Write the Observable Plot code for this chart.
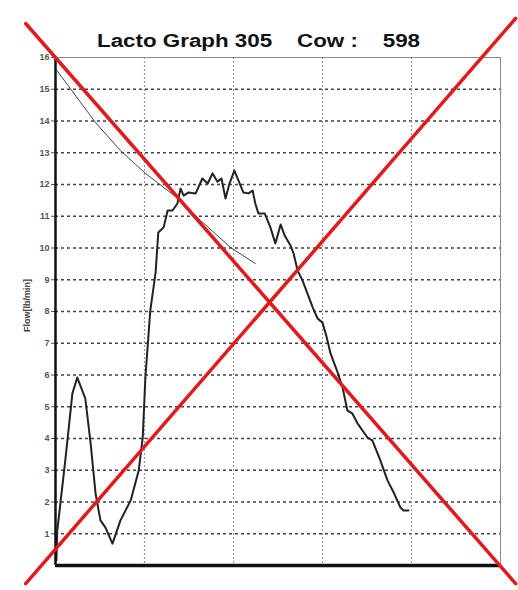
<!DOCTYPE html>
<html><head><meta charset="utf-8">
<script src="https://cdn.jsdelivr.net/npm/d3@7"></script>
<script src="https://cdn.jsdelivr.net/npm/@observablehq/plot@0.6"></script>
<style>body{margin:0;background:#fff;font-family:"Liberation Sans",Arial,sans-serif}</style>
</head><body><div id="chart"></div>
<script>
// Milk flow curve (time in arbitrary minutes, flow in lb/min)
const flowTime = [0.02,0.04,0.22,0.38,0.49,0.67,0.79,0.90,1.01,1.12,1.28,1.46,1.69,1.87,1.96,2.02,2.13,2.25,2.31,2.43,2.52,2.63,2.74,2.81,2.88,2.99,3.15,3.21,3.30,3.42,3.53,3.64,3.73,3.82,3.91,4.02,4.11,4.22,4.34,4.43,4.49,4.56,4.70,4.83,4.94,5.06,5.15,5.28,5.35,5.44,5.55,5.66,5.78,5.89,6.00,6.09,6.18,6.34,6.45,6.56,6.67,6.79,7.01,7.12,7.30,7.46,7.60,7.75,7.82,7.93];
const flowValue = [0.16,1.10,3.31,5.42,5.92,5.26,3.84,2.27,1.42,1.20,0.69,1.42,2.05,2.99,4.03,5.92,8.03,9.23,10.49,10.65,11.18,11.18,11.40,11.87,11.65,11.75,11.72,11.91,12.19,12.03,12.35,12.09,12.19,11.56,12.03,12.44,12.13,11.75,11.72,11.81,11.40,11.09,11.09,10.65,10.14,10.74,10.39,10.08,9.83,9.29,8.98,8.57,8.13,7.78,7.65,7.21,6.68,6.08,5.61,4.88,4.79,4.47,4.03,3.94,3.31,2.68,2.30,1.83,1.73,1.73];
// thin trend line
const trendTime = [0,0.90,1.46,2.02,2.81,3.26,3.93,4.49];
const trendValue = [15.65,13.95,13.07,12.35,11.50,10.87,10.02,9.51];
// red cross-out strokes
const crossATime = [-0.67,10.34], crossAValue = [17.07,-0.57];
const crossBTime = [-0.67,10.34], crossBValue = [-0.57,17.23];
// axes
const yTickValues = [1,2,3,4,5,6,7,8,9,10,11,12,13,14,15,16];
const yGridValues = [1,2,3,4,5,6,7,8,9,10,11,12,13,14,15];
const xGridValues = [2,4,6,8];
const titleText = "Lacto Graph 305    Cow :    598";
const yLabel = "Flow[lb/min]";

const flow = flowTime.map((t,i)=>({t, v: flowValue[i]}));
const trend = trendTime.map((t,i)=>({t, v: trendValue[i]}));
const crossA = crossATime.map((t,i)=>({t, v: crossAValue[i]}));
const crossB = crossBTime.map((t,i)=>({t, v: crossBValue[i]}));

const plot = Plot.plot({
  width: 518, height: 590,
  marginLeft: 55, marginRight: 18, marginTop: 57, marginBottom: 25,
  style: {fontFamily: '"Liberation Sans", Arial, sans-serif', background: "#fff"},
  x: {domain: [0,10], axis: null},
  y: {domain: [0,16], axis: null},
  marks: [
    Plot.ruleY(yGridValues, {stroke: "#444", strokeWidth: 1.3, strokeDasharray: "3,3"}),
    Plot.ruleX(xGridValues, {stroke: "#999", strokeWidth: 1.2, strokeDasharray: "2,2"}),
    Plot.ruleY([16], {stroke: "#888", strokeWidth: 1}),
    Plot.ruleX([10], {stroke: "#888", strokeWidth: 1}),
    Plot.axisY({ticks: yTickValues, tickSize: 4, tickPadding: 2, fontSize: 9, fontWeight: "bold", color: "#555", label: null}),
    Plot.text([yLabel], {frameAnchor: "left", dx: -28, dy: -6, rotate: -90, textAnchor: "middle", fontSize: 9, fill: "#444", fontWeight: "bold"}),
    Plot.line(trend, {x: "t", y: "v", stroke: "#445", strokeWidth: 1}),
    Plot.line(flow, {x: "t", y: "v", stroke: "#222", strokeWidth: 2}),
    Plot.ruleX([0], {stroke: "#111", strokeWidth: 2.5}),
    Plot.ruleY([0], {stroke: "#111", strokeWidth: 3.5}),
    Plot.line(crossA, {x: "t", y: "v", stroke: "#e01b1b", strokeWidth: 3.5}),
    Plot.line(crossB, {x: "t", y: "v", stroke: "#e01b1b", strokeWidth: 3.5})
  ]
});
document.getElementById("chart").appendChild(plot);
d3.select(plot).append("text")
  .attr("x", 97).attr("y", 47)
  .attr("text-anchor", "start")
  .attr("textLength", 323).attr("lengthAdjust", "spacingAndGlyphs")
  .attr("font-size", 18).attr("font-weight", "bold").attr("fill", "#111")
  .attr("xml:space", "preserve").style("white-space", "pre")
  .text(titleText);
</script>
</body></html>
